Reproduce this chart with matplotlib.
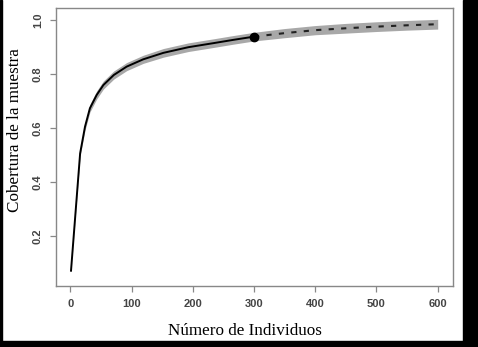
import matplotlib
matplotlib.use("Agg")
import matplotlib.pyplot as plt
from matplotlib.patches import Rectangle
import numpy as np

# Interpolated (observed) part
x_obs = [1, 16, 24, 32, 43, 54, 71, 92, 119, 152, 193, 234, 266, 300]
y_obs = [0.068, 0.506, 0.605, 0.673, 0.722, 0.759, 0.796, 0.827, 0.854, 0.878, 0.899, 0.914, 0.926, 0.938]
# Extrapolated part
x_ext = [300, 350, 400, 450, 500, 550, 600]
y_ext = [0.938, 0.951, 0.962, 0.969, 0.975, 0.980, 0.984]
# Confidence band half-widths
hw_obs = [0.0, 0.010, 0.013, 0.014, 0.015, 0.015, 0.015, 0.015, 0.015, 0.016, 0.016, 0.016, 0.016, 0.016]
hw_ext = [0.016, 0.017, 0.017, 0.018, 0.018, 0.018, 0.018]

x_ticks = [0, 100, 200, 300, 400, 500, 600]
y_ticks = [0.2, 0.4, 0.6, 0.8, 1.0]
x_label = "Número de Individuos"
y_label = "Cobertura de la muestra"

W, H = 478, 347
fig = plt.figure(figsize=(W / 100, H / 100), dpi=100)
fig.patch.set_facecolor("white")

ax = fig.add_axes([56 / W, 1 - 286 / H, (453 - 56) / W, (286 - 8) / H])

xb = np.array(x_obs + x_ext[1:], dtype=float)
yb = np.array(y_obs + y_ext[1:], dtype=float)
hb = np.array(hw_obs + hw_ext[1:], dtype=float)
ax.fill_between(xb, yb - hb, yb + hb, color="#a8a8a8", linewidth=0, zorder=1)

ax.plot(x_obs, y_obs, color="black", lw=1.4, zorder=3, solid_capstyle="butt")
ax.plot(x_ext, y_ext, color="#222222", lw=1.5, ls=(0, (2.5, 3.5)), zorder=3)
ax.plot([x_obs[-1]], [y_obs[-1]], "o", color="black", ms=6, zorder=4)

ax.set_xlim(-23.4, 625)
ax.set_ylim(0.015, 1.044)

ax.set_xticks(x_ticks)
ax.set_yticks(y_ticks)
ax.set_xticklabels([str(t) for t in x_ticks])
ax.set_yticklabels(["%.1f" % t for t in y_ticks], rotation=90, va="center")

for s in ax.spines.values():
    s.set_color("#888888")
    s.set_linewidth(1.0)

ax.tick_params(axis="both", direction="out", length=4.5, width=0.9, color="#888888",
               labelsize=8, labelcolor="#444444")
ax.tick_params(axis="x", pad=5)
ax.tick_params(axis="y", pad=5)
for lab in ax.get_xticklabels() + ax.get_yticklabels():
    lab.set_family("Liberation Sans")
    lab.set_fontweight("bold")

ax.set_xlabel(x_label, family="Liberation Serif", fontsize=12.3, color="black",
              va="center", ha="center")
ax.set_ylabel(y_label, family="Liberation Serif", fontsize=12.3, color="black",
              va="center", ha="center")
ax.xaxis.set_label_coords((245 - 56) / (453 - 56), (286 - 331) / (286 - 8))
ax.yaxis.set_label_coords((15 - 56) / (453 - 56), (286 - 130) / (286 - 8))

# black frame pieces
fig.patches.append(Rectangle((0, 0), 2 / W, 1, transform=fig.transFigure, color="black", zorder=10))
fig.patches.append(Rectangle((463 / W, 0), 15 / W, 1, transform=fig.transFigure, color="black", zorder=10))
fig.patches.append(Rectangle((0, 0), 1, 6 / H, transform=fig.transFigure, color="black", zorder=10))

fig.savefig("out.png", dpi=100)
